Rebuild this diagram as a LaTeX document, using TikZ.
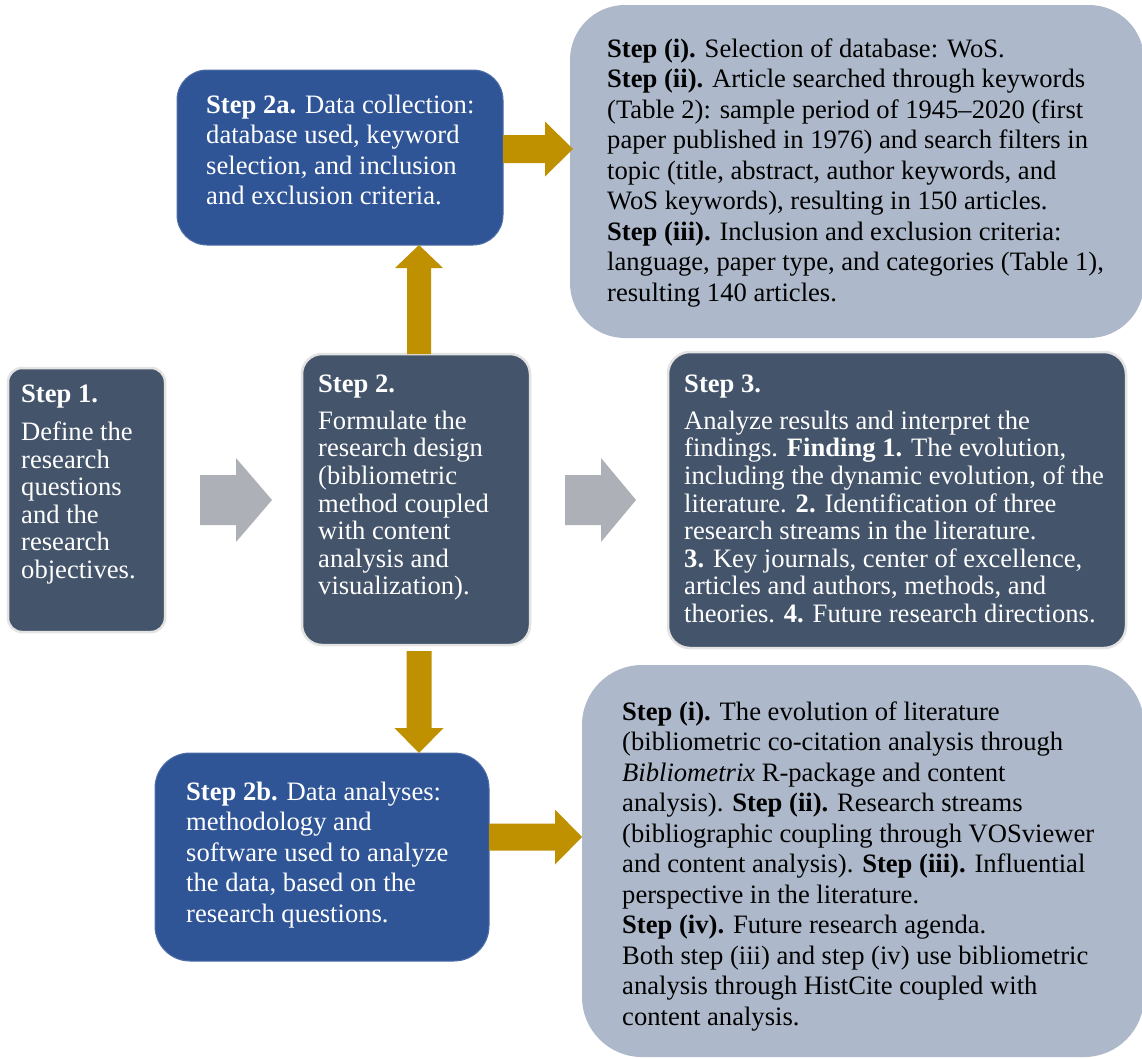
\documentclass[tikz,border=0pt]{standalone}
\usepackage{fontspec}
\setmainfont{Liberation Serif}
\usetikzlibrary{calc}
\definecolor{slate}{HTML}{44546A}
\definecolor{navy}{HTML}{2F5597}
\definecolor{pale}{HTML}{ADB9CA}
\definecolor{gold}{HTML}{BF9000}
\definecolor{greyarrow}{HTML}{ADB0B7}
\definecolor{rim}{HTML}{E3E3E3}
% #1 colour, #2 from, #3 to, #4 shaft half width, #5 head half width, #6 head length
\newcommand\blockarrow[6]{%
  \coordinate (bah) at ($(#3)!#6!(#2)$);
  \fill[#1] ($(#2)!#4!90:(#3)$) -- ($(bah)!#4!-90:(#2)$) -- ($(bah)!#5!-90:(#2)$) -- (#3)
    -- ($(bah)!#5!90:(#2)$) -- ($(bah)!#4!90:(#2)$) -- ($(#2)!#4!-90:(#3)$) -- cycle;}
\begin{document}
\begin{tikzpicture}[x=1pt,y=-1pt,
  box/.style={rectangle, inner sep=0pt, outer sep=0pt},
  slatebox/.style={box, fill=slate, draw=rim, line width=2.5pt},
  navybox/.style={box, fill=navy, draw=navy!85!white, line width=1pt},
  palebox/.style={box, fill=pale},
  lighttext/.style={anchor=north west, inner sep=0pt, align=left, text=white},
  darktext/.style={anchor=north west, inner sep=0pt, align=left, text=black},
  tight/.style={font=\fontsize{26.6}{27.6}\selectfont},
  loose/.style={font=\fontsize{26.6}{30.5}\selectfont},
]
\fill[white] (0,0) rectangle (1142,1058);
\useasboundingbox (0,0) rectangle (1142,1058);

% boxes
\node[palebox, minimum width=574pt, minimum height=333pt, rounded corners=55pt] (ri) at (857,171.5) {};
\node[palebox, minimum width=562pt, minimum height=392pt, rounded corners=60pt] (riv) at (863,861) {};
\node[navybox, minimum width=326pt, minimum height=175pt, rounded corners=30pt] (s2a) at (340,157.5) {};
\node[navybox, minimum width=334pt, minimum height=208pt, rounded corners=35pt] (s2b) at (322,857) {};
\node[slatebox, minimum width=157pt, minimum height=264pt, rounded corners=14pt] (s1) at (86.5,500) {};
\node[slatebox, minimum width=228pt, minimum height=291pt, rounded corners=20pt] (s2) at (416,499.5) {};
\node[slatebox, minimum width=458pt, minimum height=296pt, rounded corners=22pt] (s3) at (897,500) {};

% texts
\node[lighttext, tight] (s1t) at (21,382.7) {\strut\textbf{Step 1.}\\[10.6pt]
Define the\\ research\\ questions\\ and the\\ research\\ objectives.};
\node[lighttext, tight] (s2t) at (318,372.5) {\strut\textbf{Step 2.}\\[9.6pt]
Formulate the\\ research design\\ (bibliometric\\ method coupled\\ with content\\ analysis and\\ visualization).};
\node[lighttext, tight] (s3t) at (684,372.5) {\strut\textbf{Step 3.}\\[9.6pt]
Analyze results and interpret the\\
findings. \textbf{Finding 1.} The evolution,\\
including the dynamic evolution, of the\\
literature. \textbf{2.} Identification of three\\
research streams in the literature.\\
\textbf{3.} Key journals, center of excellence,\\
articles and authors, methods, and\\
theories. \textbf{4.} Future research directions.};
\node[lighttext, loose] (s2at) at (206,91.7) {\strut\textbf{Step 2a.} Data collection:\\
database used, keyword\\ selection, and inclusion\\ and exclusion criteria.};
\node[lighttext, loose] (s2bt) at (186,778.7) {\strut\textbf{Step 2b.} Data analyses:\\
methodology and\\ software used to analyze\\ the data, based on the\\ research questions.};
\node[darktext, loose] (rit) at (607,35.7) {\strut\textbf{Step (i).} Selection of database: WoS.\\
\textbf{Step (ii).} Article searched through keywords\\
(Table 2): sample period of 1945--2020 (first\\
paper published in 1976) and search filters in\\
topic (title, abstract, author keywords, and\\
WoS keywords), resulting in 150 articles.\\
\textbf{Step (iii).} Inclusion and exclusion criteria:\\
language, paper type, and categories (Table 1),\\
resulting 140 articles.};
\node[darktext, loose] (rivt) at (622,698.7) {\strut\textbf{Step (i).} The evolution of literature\\
(bibliometric co-citation analysis through\\
\textit{Bibliometrix} R-package and content\\
analysis). \textbf{Step (ii).} Research streams\\
(bibliographic coupling through VOSviewer\\
and content analysis). \textbf{Step (iii).} Influential\\
perspective in the literature.\\
\textbf{Step (iv).} Future research agenda.\\
Both step (iii) and step (iv) use bibliometric\\
analysis through HistCite coupled with\\
content analysis.};

% connectors
\coordinate (ax) at (419,0);
\coordinate (ay) at (0,149);
\coordinate (by) at (0,837);
\coordinate (u1) at (s2.north -| ax);
\coordinate (u2) at (s2a.south -| ax);
\blockarrow{gold}{u1}{u2}{12pt}{24pt}{23pt}
\coordinate (d1) at ($(s2.south -| ax)+(0,6)$);
\coordinate (d2) at (s2b.north -| ax);
\blockarrow{gold}{d1}{d2}{12.5pt}{24.5pt}{25pt}
\coordinate (r1) at (s2a.east |- ay);
\coordinate (r2) at ($(ri.west |- ay)+(3,0)$);
\blockarrow{gold}{r1}{r2}{14pt}{27.5pt}{28pt}
\coordinate (b1) at (s2b.east |- by);
\coordinate (b2) at (riv.west |- by);
\blockarrow{gold}{b1}{b2}{13.5pt}{27.5pt}{27pt}
\coordinate (g1) at ($(s1.east)+(35,0)$);
\coordinate (g2) at ($(s2.west |- g1)+(-30,0)$);
\blockarrow{greyarrow}{g1}{g2}{25pt}{42pt}{36pt}
\coordinate (g3) at ($(s2.east |- g1)+(35,0)$);
\coordinate (g4) at ($(s3.west |- g1)+(-32,0)$);
\blockarrow{greyarrow}{g3}{g4}{25pt}{42pt}{35pt}
\end{tikzpicture}
\end{document}
